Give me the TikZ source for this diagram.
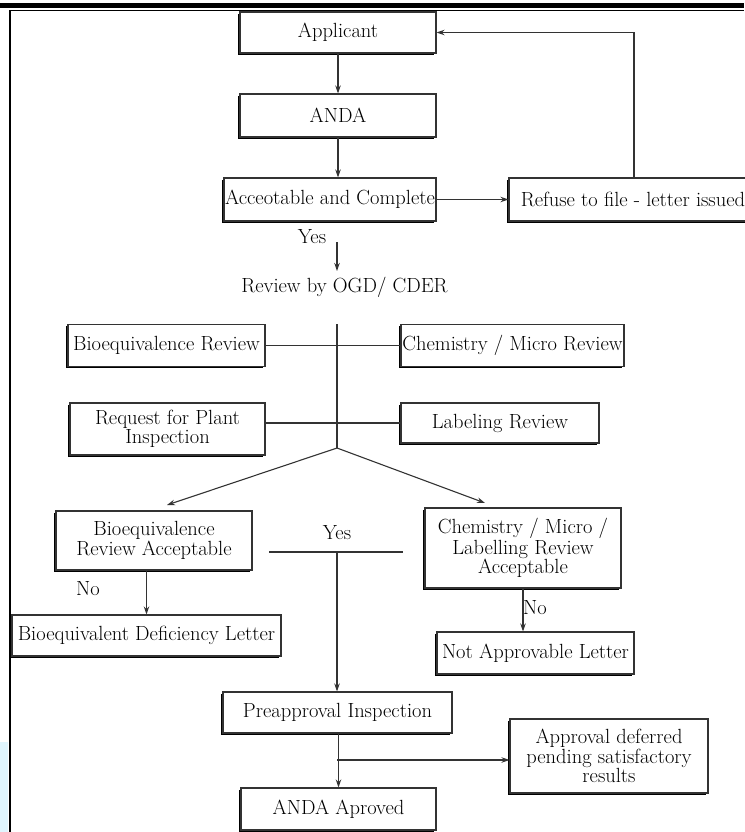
\documentclass[tikz,border=0pt]{standalone}
\usepackage{tikz}
\usetikzlibrary{positioning, arrows.meta, shadows}

\begin{document}
\begin{tikzpicture}[x=1pt, y=-1pt, line width=1.1pt, draw=black!80,
  box/.style={draw=black!80, fill=white, align=center, inner sep=1pt,
    font=\fontsize{20.5}{17}\selectfont,
    drop shadow={shadow xshift=-1.6pt, shadow yshift=-1.8pt, opacity=1, fill=black}},
  lbl/.style={font=\fontsize{20.5}{17}\selectfont},
  >={Stealth[length=8pt, width=5.5pt]}]

\useasboundingbox (0,0) rectangle (744,832);

% Page frame
\fill[cyan!12] (0,742) rectangle (8,832);
\fill[black] (0,3) rectangle (744,8.5);
\draw[black, line width=1pt] (9,11) -- (744,11);
\draw[black, line width=2pt] (10,11) -- (10,832);

% Submission
\node[box, minimum width=196pt, minimum height=41pt] (applicant) at (338,32.5) {Applicant};
\node[box, minimum width=196pt, minimum height=43pt] (anda) at (338,115.5) {ANDA};
\node[box, minimum width=212pt, minimum height=43pt, inner sep=0pt] (accept) at (330,199.5) {Acceotable and Complete};
\node[box, minimum width=248pt, minimum height=43pt] (refuse) at (633,199.5) {Refuse to file - letter issued};
\node[lbl] (yes1) at (312,237) {Yes};
\node[lbl] (review) at (344.5,287) {Review by OGD/ CDER};

% Reviews
\node[box, minimum width=197pt, minimum height=42pt] (bereview) at (166.5,345.5) {Bioequivalence Review};
\node[box, minimum width=223pt, minimum height=42pt] (chemreview) at (512.5,345.5) {Chemistry / Micro Review};
\node[box, minimum width=195pt, minimum height=52pt] (plant) at (167.5,429) {Request for Plant\\Inspection};
\node[box, minimum width=198pt, minimum height=40pt] (labeling) at (500,423) {Labeling Review};

% Outcomes
\node[lbl] (yes2) at (337,533) {Yes};
\node[box, minimum width=196pt, minimum height=59pt] (beok) at (154,540.5) {Bioequivalence\\Review Acceptable};
\node[box, minimum width=196pt, minimum height=80pt] (cmok) at (523,548) {Chemistry / Micro /\\Labelling Review\\Acceptable};
\node[lbl] (no1) at (88,589) {No};
\node[lbl] (no2) at (535,608) {No};
\node[box, minimum width=269pt, minimum height=41pt] (deficiency) at (146.5,635.5) {Bioequivalent Deficiency Letter};
\node[box, minimum width=197pt, minimum height=42pt] (notappr) at (535.5,653) {Not Approvable Letter};
\node[box, minimum width=229pt, minimum height=41pt] (preappr) at (337.5,712.5) {Preapproval Inspection};
\node[box, minimum width=198pt, minimum height=74pt] (deferred) at (609,756) {Approval deferred\\pending satisfactory\\results};
\node[box, minimum width=195pt, minimum height=42pt] (approved) at (338.5,809) {ANDA Aproved};

% Helper points
\coordinate (back) at (634,32.5);
\coordinate (yesstart) at (337,242);
\coordinate (yesend) at (337,271);
\coordinate (stemtop) at (337,324);
\coordinate (split) at (337,448);
\coordinate (leftend) at (167,505);
\coordinate (rightend) at (485,503);
\coordinate (barleft) at (269,552);
\coordinate (barright) at (403,552);
\coordinate (barmid) at (337,552);
\coordinate (fork) at (337,760);

% Arrows
\draw[->] (applicant) -- (anda);
\draw[->] (anda) -- (accept.north -| anda);
\draw[->] (accept) -- (refuse);
\draw[->] (refuse.north -| back) |- (applicant.east);
\draw[->] (yesstart) -- (yesend);
\draw (stemtop) -- (split);
\draw (bereview) -- (chemreview);
\draw (plant.east |- labeling) -- (labeling);
\draw[->] (split) -- (leftend);
\draw[->] (split) -- (rightend);
\draw (barleft) -- (barright);
\draw[->] (barmid) -- (preappr.north -| barmid);
\draw[->] (beok.south -| deficiency.north) -- (deficiency.north);
\draw[->] (cmok.south) -- (notappr.north -| cmok.south);
\draw[->] (preappr.south -| approved) -- (approved);
\draw[->] (fork) -- (deferred.west |- fork);

\end{tikzpicture}
\end{document}
